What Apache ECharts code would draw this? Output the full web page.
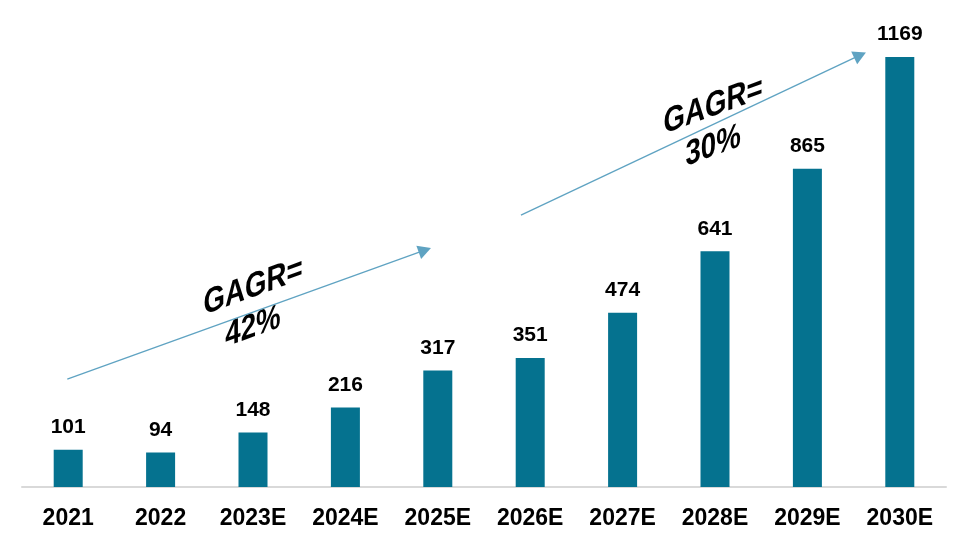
<!DOCTYPE html>
<html><head><meta charset="utf-8">
<script src="https://cdn.jsdelivr.net/npm/echarts@6/dist/echarts.min.js"></script>
<style>html,body{margin:0;padding:0;background:#fff}#c{width:969px;height:547px}</style>
</head><body><div id="c"></div>
<script>
const categories = ['2021','2022','2023E','2024E','2025E','2026E','2027E','2028E','2029E','2030E'];
const values = [101, 94, 148, 216, 317, 351, 474, 641, 865, 1169];
// arrows in data units: [x position along categories (0..10), value]
const arrow1 = [[0.49, 293], [4.36, 644]];
const arrow2 = [[5.40, 739], [9.07, 1174]];
const note1 = {text: 'GAGR=\n42%', pos: [2.50, 489], angle: 20};
const note2 = {text: 'GAGR=\n30%', pos: [7.48, 981], angle: 20};

const chart = echarts.init(document.getElementById('c'));
const arrowColor = '#5fa3c2';
function arrowLine(a) {
  return [{coord: a[0]}, {coord: a[1]}];
}
chart.setOption({
  animation: false,
  grid: {left: 22, right: 23, top: 45.6, bottom: 60, containLabel: false},
  xAxis: [{
    type: 'category', data: categories,
    axisLine: {lineStyle: {color: '#d9d9d9', width: 2}},
    axisTick: {show: false},
    axisLabel: {color: '#000', fontSize: 23, fontWeight: 'bold', fontFamily: 'Liberation Sans', margin: 20}
  }, {
    type: 'value', min: 0, max: 10, show: false
  }],
  yAxis: {type: 'value', min: 0, max: 1200, show: false, splitLine: {show: false}},
  series: [{
    type: 'bar', data: values, barWidth: 29,
    itemStyle: {color: '#05728f'},
    label: {show: true, position: 'top', distance: 12, color: '#000', fontSize: 21, fontWeight: 'bold', fontFamily: 'Liberation Sans'}
  }, {
    type: 'line', xAxisIndex: 1, data: [], silent: true,
    markLine: {
      silent: true, symbol: ['none', 'triangle'], symbolSize: [14, 13],
      label: {show: false},
      lineStyle: {color: arrowColor, width: 1.3, type: 'solid'},
      data: [arrowLine(arrow1), arrowLine(arrow2)]
    }
  }]
});
function noteGraphic(n) {
  const p = chart.convertToPixel({xAxisIndex: 1, yAxisIndex: 0}, n.pos);
  return {
    type: 'text', x: p[0], y: p[1], scaleX: 0.79, skewY: n.angle * Math.PI / 180,
    style: {text: n.text, fill: '#000', fontSize: 35, fontWeight: 'bold', fontFamily: 'Liberation Sans',
      align: 'center', verticalAlign: 'middle', lineHeight: 40}
  };
}
chart.setOption({graphic: [noteGraphic(note1), noteGraphic(note2)]});
</script></body></html>
